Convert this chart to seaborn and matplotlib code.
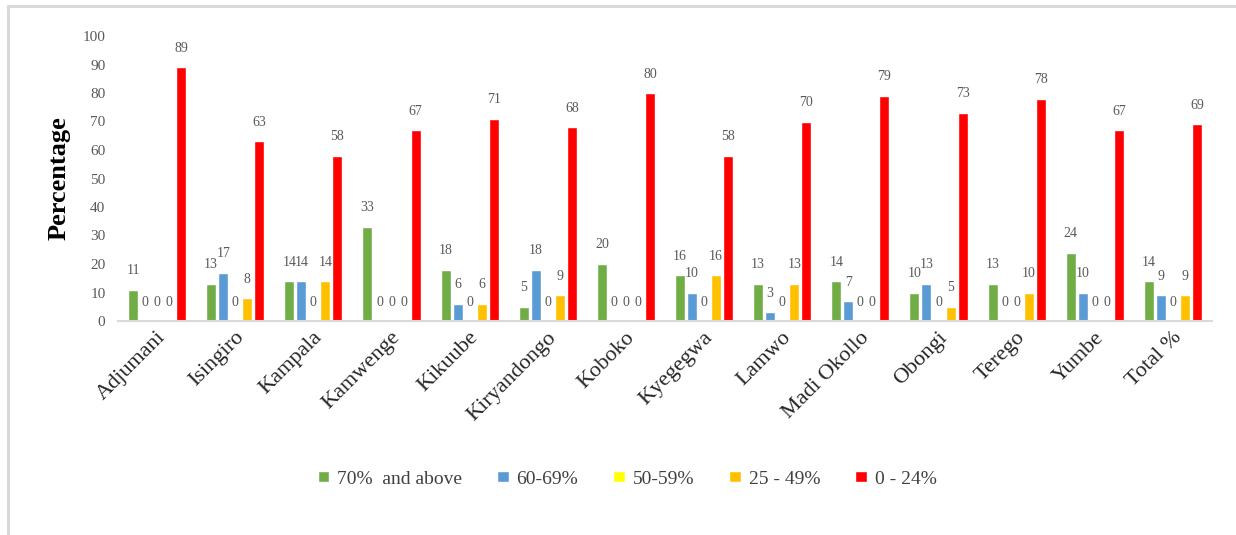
import matplotlib
matplotlib.use("Agg")
import matplotlib.pyplot as plt
from matplotlib.lines import Line2D
from matplotlib.transforms import ScaledTranslation
import pandas as pd
import seaborn as sns

# Districts and score-band shares (%)
districts = ["Adjumani", "Isingiro", "Kampala", "Kamwenge", "Kikuube", "Kiryandongo",
             "Koboko", "Kyegegwa", "Lamwo", "Madi Okollo", "Obongi", "Terego",
             "Yumbe", "Total %"]
score_bands = ["70%  and above", "60-69%", "50-59%", "25 - 49%", "0 - 24%"]
band_70_plus = [11, 13, 14, 33, 18, 5, 20, 16, 13, 14, 10, 13, 24, 14]
band_60_69 = [0, 17, 14, 0, 6, 18, 0, 10, 3, 7, 13, 0, 10, 9]
band_50_59 = [0, 0, 0, 0, 0, 0, 0, 0, 0, 0, 0, 0, 0, 0]
band_25_49 = [0, 8, 14, 0, 6, 9, 0, 16, 13, 0, 5, 10, 0, 9]
band_0_24 = [89, 63, 58, 67, 71, 68, 80, 58, 70, 79, 73, 78, 67, 69]
band_colors = ["#70AD47", "#5B9BD5", "#FFFF00", "#FFC000", "#FF0000"]

series = [band_70_plus, band_60_69, band_50_59, band_25_49, band_0_24]
rows = []
for band, values in zip(score_bands, series):
    for district, v in zip(districts, values):
        rows.append({"District": district, "Band": band, "Percentage": v})
df = pd.DataFrame(rows)

sns.set_theme(style="white")
plt.rcParams["font.family"] = ["Liberation Serif", "DejaVu Serif"]

W, H = 1236, 535
fig = plt.figure(figsize=(W / 100, H / 100), dpi=100)
ax = fig.add_axes([118 / W, 214 / H, (1212 - 118) / W, (321 - 36) / H])

sns.barplot(data=df, x="District", y="Percentage", hue="Band",
            order=districts, hue_order=score_bands, palette=band_colors,
            width=0.77, gap=0.17, errorbar=None, ax=ax, saturation=1)

for container in ax.containers:
    ax.bar_label(container, fmt="%d", padding=9, fontsize=10, color="#595959")

ax.set_ylim(0, 100)
ax.set_xlim(-0.5, len(districts) - 0.5)
ax.set_yticks(range(0, 101, 10))
ax.set_xlabel("")
ax.set_ylabel("Percentage", fontsize=19, fontweight="bold", color="black", labelpad=9)

for side in ["top", "right", "left"]:
    ax.spines[side].set_visible(False)
ax.spines["bottom"].set_color("#D9D9D9")
ax.spines["bottom"].set_linewidth(1.5)

ax.tick_params(axis="y", length=0, pad=9, labelsize=11, labelcolor="#595959")
ax.tick_params(axis="x", length=0, pad=10, labelsize=16, labelcolor="#262626")
shift = ScaledTranslation(6 / 100, 0, fig.dpi_scale_trans)
for lbl in ax.get_xticklabels():
    lbl.set_rotation(45)
    lbl.set_ha("right")
    lbl.set_va("center")
    lbl.set_rotation_mode("anchor")
    lbl.set_transform(lbl.get_transform() + shift)

handles, labels = ax.get_legend_handles_labels()
ax.legend(handles, labels, loc="center", bbox_to_anchor=(627 / W, (H - 479) / H),
          bbox_transform=fig.transFigure, ncol=5, frameon=False, fontsize=14,
          handlelength=0.6, handleheight=0.55, handletextpad=0.4,
          columnspacing=1.8, labelcolor="#404040")

# Light grey frame around the chart area
fig.add_artist(Line2D([8 / W, 1.0], [1 - 6 / H, 1 - 6 / H], color="#D9D9D9", lw=2.2,
                      transform=fig.transFigure))
fig.add_artist(Line2D([8 / W, 8 / W], [0.0, 1 - 6 / H], color="#D9D9D9", lw=2.2,
                      transform=fig.transFigure))

fig.savefig("out.png", dpi=100, facecolor="white")
